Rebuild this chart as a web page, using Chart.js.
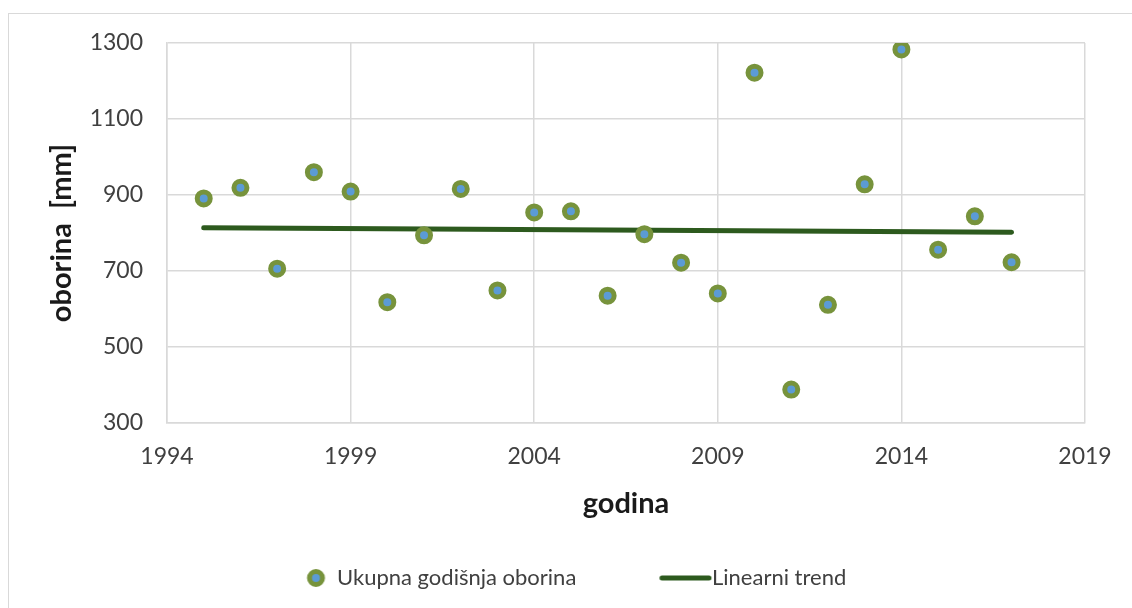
<!DOCTYPE html>
<html>
<head>
<meta charset="utf-8">
<script src="https://cdn.jsdelivr.net/npm/chart.js@4.4.1/dist/chart.umd.min.js"></script>
<style>
  html, body { margin: 0; padding: 0; background: #fff; overflow: hidden; }
  #wrap { position: relative; width: 1132px; height: 608px; }
  #frame { position: absolute; left: 8px; top: 13px; width: 1300px; height: 800px;
           border-left: 1.5px solid #d9d9d9; border-top: 1.5px solid #d9d9d9; }
  canvas { position: absolute; left: 0; top: 0; }
</style>
</head>
<body>
<div id="wrap">
  <div id="frame"></div>
  <canvas id="c" width="1132" height="608"></canvas>
</div>
<script>
// ---- data ----
const years = [1995, 1996, 1997, 1998, 1999, 2000, 2001, 2002, 2003, 2004, 2005, 2006,
               2007, 2008, 2009, 2010, 2011, 2012, 2013, 2014, 2015, 2016, 2017];
const precipitation = [891, 919, 706, 960, 909, 618, 794, 916, 649, 854, 857, 635,
                       797, 722, 641, 1222, 388, 611, 928, 1283, 756, 844, 723];
const trendYears = [1995, 2017];
const trendValues = [814, 802];
const seriesNames = ['Ukupna godišnja oborina', 'Linearni trend'];
const xTitle = 'godina';
const yTitle = 'oborina  [mm]';
const xRange = [1994, 2019], xStep = 5;
const yRange = [300, 1300], yStep = 200;

// ---- styles ----
const FONT = 'Lato';
const GREEN = '#77933c', BLUE = '#5b9bd5', DARK = '#2d5a1e', GRID = '#d9d9d9';
const TXT = '#404040', TITLE = '#1a1a1a';
const PAD_L = 0, PAD_R = 47, PAD_B = 9;
const LEG_FS = 22, TITLE_FS = 29;
const TITLE_LH = TITLE_FS * 1.2;

// legend geometry (to place markers/texts like the reference)
const mctx = document.createElement('canvas').getContext('2d');
const C = (PAD_L + 1132 - PAD_R) / 2;
const text1X = 337, text2X = 712, half = LEG_FS / 2;
let P = 40, W = 60;
function computeLegend() {
  mctx.font = LEG_FS + 'px ' + FONT;
  const a = mctx.measureText(seriesNames[0]).width, b = mctx.measureText(seriesNames[1]).width;
  P = Math.max(4, 2 * (C - text1X) - a - b);
  W = Math.max(10, (text2X - text1X) - half - a - P);
}

function circleImg() {
  const o = W / 2 - 10;
  const w = Math.ceil(2 * (Math.abs(o) + 11));
  const cv = document.createElement('canvas');
  cv.width = w; cv.height = 22;
  const g = cv.getContext('2d');
  g.beginPath(); g.arc(w / 2 + o, 11, 6.5, 0, Math.PI * 2);
  g.fillStyle = BLUE; g.fill();
  g.lineWidth = 5; g.strokeStyle = GREEN; g.stroke();
  return cv;
}
function lineImg() {
  const a = W / 2 + half - 52, b = W / 2 + half - 1;
  const w = Math.ceil(2 * Math.max(Math.abs(a), Math.abs(b)) + 6);
  const cv = document.createElement('canvas');
  cv.width = w; cv.height = 8;
  const g = cv.getContext('2d');
  g.beginPath(); g.moveTo(w / 2 + a + 2, 4); g.lineTo(w / 2 + b - 2, 4);
  g.lineWidth = 5; g.lineCap = 'round'; g.strokeStyle = DARK; g.stroke();
  return cv;
}

const pts = years.map((y, i) => ({ x: y, y: precipitation[i] }));
const trend = trendYears.map((y, i) => ({ x: y, y: trendValues[i] }));

Chart.defaults.font.family = FONT;

function build() {
  computeLegend();
  const imgs = [circleImg(), lineImg()];
  const legendH = LEG_FS + P + 10;
  const xAxisBottom = 608 - PAD_B - legendH;
  const xTitlePadB = xAxisBottom - 504 - TITLE_LH / 2;
  new Chart(document.getElementById('c'), {
    type: 'scatter',
    data: {
      datasets: [
        { label: seriesNames[0], data: pts, backgroundColor: BLUE, borderColor: GREEN,
          pointRadius: 6.5, pointBorderWidth: 5, pointHoverRadius: 6.5, order: 1 },
        { label: seriesNames[1], type: 'line', data: trend, showLine: true, borderColor: DARK,
          borderWidth: 5, borderCapStyle: 'round', pointRadius: 0, fill: false, order: 2 }
      ]
    },
    options: {
      responsive: false,
      devicePixelRatio: 1,
      animation: false,
      layout: { padding: { left: PAD_L, right: PAD_R, top: 43, bottom: PAD_B } },
      plugins: {
        tooltip: { enabled: false },
        legend: {
          position: 'bottom',
          labels: {
            usePointStyle: true,
            pointStyleWidth: W,
            padding: P,
            font: { size: LEG_FS, family: FONT },
            color: TXT,
            generateLabels: () => seriesNames.map((n, i) => ({
              text: n, pointStyle: imgs[i], fillStyle: 'transparent', strokeStyle: 'transparent',
              lineWidth: 0, hidden: false, datasetIndex: i, fontColor: TXT
            }))
          }
        }
      },
      scales: {
        x: {
          type: 'linear', min: xRange[0], max: xRange[1],
          afterFit: s => { s.height = xAxisBottom - 423; },
          ticks: { stepSize: xStep, padding: 20, color: TXT, font: { size: 23 },
                   callback: v => String(v), maxRotation: 0 },
          grid: { color: GRID, lineWidth: 1.5, drawTicks: false },
          border: { color: GRID, width: 1.5 },
          title: { display: true, text: xTitle, color: TITLE,
                   font: { size: TITLE_FS, weight: 'bold' }, padding: { top: 0, bottom: xTitlePadB } }
        },
        y: {
          min: yRange[0], max: yRange[1],
          afterFit: s => { s.width = 167 - PAD_L; },
          ticks: { stepSize: yStep, padding: 24, color: TXT, font: { size: 23 },
                   callback: v => String(v) },
          grid: { color: GRID, lineWidth: 1.5, drawTicks: false },
          border: { color: GRID, width: 1.5 },
          title: { display: true, text: yTitle, color: TITLE,
                   font: { size: TITLE_FS, weight: 'bold' },
                   padding: { top: 62 - PAD_L - TITLE_LH / 2, bottom: 0 } }
        }
      }
    }
  });
}
if (document.fonts && document.fonts.load) {
  Promise.all([document.fonts.load('22px Lato'), document.fonts.load('bold 29px Lato')])
    .then(build, build);
} else { build(); }
</script>
</body>
</html>
